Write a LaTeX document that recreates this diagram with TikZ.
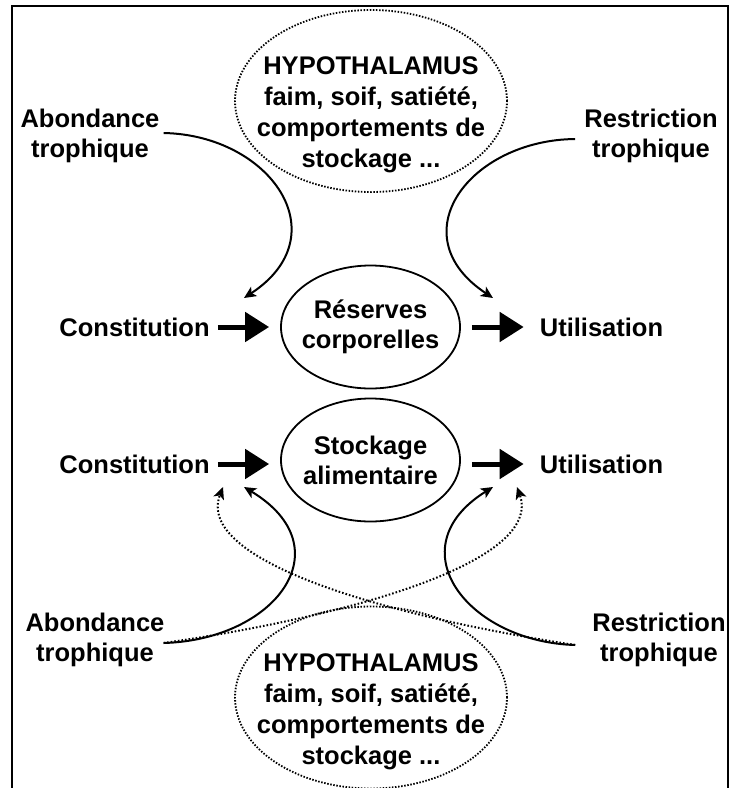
\documentclass[tikz,border=0pt]{standalone}
\usepackage{fontspec}
\setmainfont{Liberation Sans}
\usepackage{tikz}
\usetikzlibrary{shapes.geometric, arrows.meta, positioning, calc}
\tikzstyle{txt} = [align=center, inner sep=4pt, font=\bfseries\fontsize{25.5}{30}\selectfont]
\tikzstyle{hypotxt} = [align=center, inner sep=0pt, font=\bfseries\fontsize{25.5}{31}\selectfont]
\tikzstyle{store} = [ellipse, draw=black, line width=1.8pt, minimum width=179pt, minimum height=123pt, inner sep=-14pt, align=center, font=\bfseries\fontsize{25.5}{30}\selectfont]
\tikzstyle{hypo} = [ellipse, draw=black, line width=1.8pt, dash pattern=on 1.5pt off 1.6pt, minimum width=272pt, minimum height=182pt]
\tikzstyle{bigarrow} = [line width=5pt, -{Triangle[length=24pt,width=29pt]}]
\tikzstyle{arrow} = [line width=2pt, -{Stealth[length=12pt,width=11pt,inset=3pt]}]
\tikzstyle{dotarrow} = [arrow, dash pattern=on 1.6pt off 2pt]

\begin{document}
\begin{tikzpicture}[x=1pt, y=-1pt]
\useasboundingbox (0,0) rectangle (730,788);
\draw [line width=1.6pt] (12,800) -- (12,6) -- (728,6) -- (728,800);

% hypothalamus, top
\node (hypotop) [hypo] at (371,101) {};
\node (hypotoptxt) [hypotxt] at (371,115) {HYPOTHALAMUS\\faim, soif, satiété,\\comportements de\\stockage ...};
\node (abondtop) [txt] at (90,136) {Abondance\\trophique};
\node (restrtop) [txt] at (651,136) {Restriction\\trophique};

% reserves corporelles
\node (res) [store] at (370.5,327) {Réserves\\corporelles};
\node (const1) [txt] at (134.5,327) {Constitution};
\node (util1) [txt] at (601.5,327) {Utilisation};

% stockage alimentaire
\node (stock) [store] at (370.5,460) {Stockage\\alimentaire};
\node (const2) [txt] at (134.5,464) {Constitution};
\node (util2) [txt] at (601.5,464) {Utilisation};

% hypothalamus, bottom
\node (abondbot) [txt] at (95,640) {Abondance\\trophique};
\node (restrbot) [txt] at (659,640) {Restriction\\trophique};
\node (hypobot) [hypo] at (371,697.5) {};
\node (hypobottxt) [hypotxt] at (371,712) {HYPOTHALAMUS\\faim, soif, satiété,\\comportements de\\stockage ...};

\coordinate (tipA1) at (244,298);
\coordinate (tipR1) at (493,298);
\coordinate (tipA2) at (244,487);
\coordinate (tipR2) at (493,487);
\coordinate (tipC2) at (223,487);
\coordinate (tipU2) at (517,487);

\draw [bigarrow, shorten <=4pt, shorten >=11pt] (const1.east) -- (const1.east -| res.west);
\draw [bigarrow, shorten <=11pt, shorten >=12pt] (res.east) -- (res.east -| util1.west);
\draw [bigarrow, shorten <=4pt, shorten >=11pt] (const2.east) -- (const2.east -| stock.west);
\draw [bigarrow, shorten <=11pt, shorten >=12pt] (const2.east -| stock.east) -- (util2.west);

\draw [arrow] ($(abondtop.east)+(0,-3)$) .. controls (270,135) and (340,235) .. (tipA1);
\draw [arrow] ($(restrtop.west)+(-5,3)$) .. controls (470,140) and (398,235) .. (tipR1);
\draw [arrow] ($(abondbot.east)+(-5,3)$) .. controls (275,640) and (345,548) .. (tipA2);
\draw [arrow] ($(restrbot.west)+(-13,5)$) .. controls (468,642) and (395,548) .. (tipR2);
\draw [dotarrow] ($(restrbot.west)+(-13,5)$) .. controls (380,615) and (195,560) .. (tipC2);
\draw [dotarrow] ($(abondbot.east)+(-5,3)$) .. controls (358,615) and (543,560) .. (tipU2);

\end{tikzpicture}
\end{document}
